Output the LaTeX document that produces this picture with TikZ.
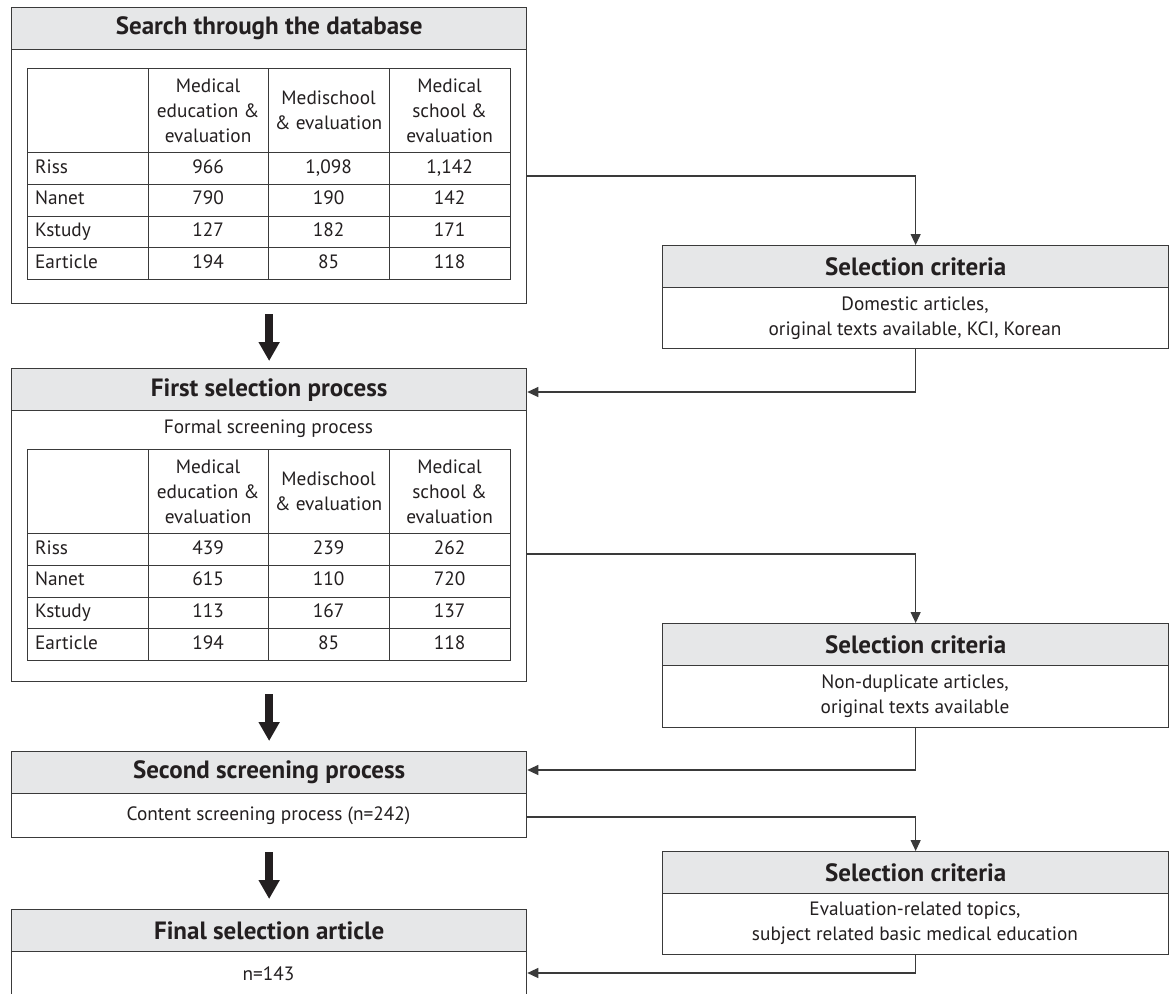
\documentclass[tikz,border=0pt]{standalone}
\usepackage{fontspec}
\setmainfont{PT Sans}
\usetikzlibrary{arrows.meta}
\definecolor{ln}{HTML}{3A3A3A}
\definecolor{hd}{HTML}{E6E7E8}
\definecolor{tx}{HTML}{231F20}
\newcommand\bodyfont{\fontsize{19.3}{25}\selectfont}
\newcommand\hdrfont{\fontsize{25}{30}\selectfont\bfseries}
\tikzset{
  outer/.style={draw=ln, line width=1.3pt, fill=white, inner sep=0pt, anchor=north west},
  hdr/.style={draw=ln, line width=1.3pt, fill=hd, inner sep=0pt, anchor=north west, minimum height=42pt, text=tx, font=\hdrfont},
  cell/.style={draw=ln, line width=1.2pt, inner sep=0pt, anchor=north west, text=tx, font=\bodyfont},
  txt/.style={text=tx, font=\bodyfont, align=center, inner sep=0pt},
  conn/.style={draw=ln, line width=1.2pt, -{Triangle[length=11pt,width=10pt]}},
  bigarrow/.style={draw=tx, line width=8pt, -{Triangle[length=19pt,width=20pt]}},
}
\newcommand\DataTable[3]{%
  \node[cell, minimum width=121pt, minimum height=84pt] (#1-0-0) at (26.5,#2) {};
  \node[cell, minimum width=120pt, minimum height=84pt, align=center] (#1-0-1) at (147.5,#2) {Medical\\education \&\\evaluation};
  \node[cell, minimum width=121pt, minimum height=84pt, align=center] (#1-0-2) at (267.5,#2) {Medischool\\\& evaluation};
  \node[cell, minimum width=121pt, minimum height=84pt, align=center] (#1-0-3) at (388.5,#2) {Medical\\school \&\\evaluation};
  \foreach \r/\a/\b/\c [count=\i] in {#3} {
    \node[cell, minimum width=121pt, minimum height=31.75pt, text width=105pt, align=left, inner xsep=8pt, text height=14pt, text depth=4.5pt] (#1-\i-0) at (26.5,{#2+84+(\i-1)*31.75}) {\r};
    \node[cell, minimum width=120pt, minimum height=31.75pt, text height=14pt, text depth=4.5pt] (#1-\i-1) at (147.5,{#2+84+(\i-1)*31.75}) {\a};
    \node[cell, minimum width=121pt, minimum height=31.75pt, text height=14pt, text depth=4.5pt] (#1-\i-2) at (267.5,{#2+84+(\i-1)*31.75}) {\b};
    \node[cell, minimum width=121pt, minimum height=31.75pt, text height=14pt, text depth=4.5pt] (#1-\i-3) at (388.5,{#2+84+(\i-1)*31.75}) {\c};
  }%
}
\begin{document}
\begin{tikzpicture}[x=1pt,y=-1pt]
\useasboundingbox (0,0) rectangle (1169,993);
\clip (0,0) rectangle (1169,993);
\fill[white] (0,0) rectangle (1169,993);

% Box 1
\node[outer, minimum width=515pt, minimum height=296pt] (b1) at (11,7) {};
\node[hdr, minimum width=515pt] (h1) at (11,7) {Search through the database};
\DataTable{ta}{68}{Riss/966/{1,098}/{1,142}, Nanet/790/190/142, Kstudy/127/182/171, Earticle/194/85/118}

% Box 2
\node[outer, minimum width=515pt, minimum height=313pt] (b2) at (11,368) {};
\node[hdr, minimum width=515pt] (h2) at (11,368) {First selection process};
\node[txt] (b2t) at (268.5,429) {Formal screening process};
\DataTable{tb}{449}{Riss/439/239/262, Nanet/615/110/720, Kstudy/113/167/137, Earticle/194/85/118}

% Box 3
\node[outer, minimum width=515pt, minimum height=86pt] (b3) at (11,751) {};
\node[hdr, minimum width=515pt] (h3) at (11,751) {Second screening process};
\node[txt] (b3t) at (268.5,816) {Content screening process (n=242)};

% Box 4
\node[outer, minimum width=515pt, minimum height=100pt] (b4) at (11,909) {};
\node[hdr, minimum width=515pt] (h4) at (11,909) {Final selection article};
\node[txt] (b4t) at (268.5,974) {n=143};

% Selection criteria boxes
\node[outer, minimum width=506pt, minimum height=103pt] (sc1) at (662,245) {};
\node[hdr, minimum width=506pt] (sh1) at (662,245) {Selection criteria};
\node[txt] (s1t) at (915,318) {Domestic articles,\\original texts available, KCI, Korean};

\node[outer, minimum width=506pt, minimum height=104pt] (sc2) at (662,623) {};
\node[hdr, minimum width=506pt] (sh2) at (662,623) {Selection criteria};
\node[txt] (s2t) at (915,696) {Non-duplicate articles,\\original texts available};

\node[outer, minimum width=506pt, minimum height=103pt] (sc3) at (662,851) {};
\node[hdr, minimum width=506pt] (sh3) at (662,851) {Selection criteria};
\node[txt] (s3t) at (915,923) {Evaluation-related topics,\\subject related basic medical education};

% big arrows
\draw[bigarrow] ([yshift=-10pt]b1.south) -- ([yshift=7pt]b2.north);
\draw[bigarrow] ([yshift=-12pt]b2.south) -- ([yshift=10pt]b3.north);
\draw[bigarrow] ([yshift=-14pt]b3.south) -- ([yshift=10pt]b4.north);

% connectors
\draw[conn] (b1.east |- 0,176) -| (sc1.north);
\draw[conn] (sc1.south) |- (b2.east |- 0,392);
\draw[conn] (b2.east |- 0,554) -| (sc2.north);
\draw[conn] (sc2.south) |- (b3.east |- 0,770);
\draw[conn] (b3.east |- 0,817) -| (sc3.north);
\draw[conn] (sc3.south) |- (b4.east |- 0,973);
\end{tikzpicture}
\end{document}
